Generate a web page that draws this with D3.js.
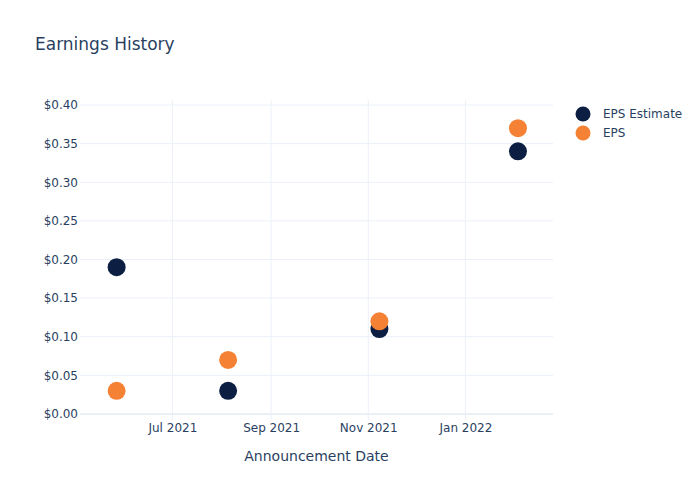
<!DOCTYPE html>
<html>
<head>
<meta charset="utf-8">
<script src="https://cdn.jsdelivr.net/npm/d3@7"></script>
<style>
  html, body { margin: 0; padding: 0; background: #fff; }
  text { font-family: "DejaVu Sans", sans-serif; }
</style>
</head>
<body>
<svg id="chart" width="700" height="500"></svg>
<script>
const dates = ["2021-05-27", "2021-08-05", "2021-11-08", "2022-02-03"];
const epsEstimate = [0.19, 0.03, 0.11, 0.34];
const eps = [0.03, 0.07, 0.12, 0.37];
const seriesNames = ["EPS Estimate", "EPS"];
const seriesColors = ["#0c1f42", "#f58134"];
const yTicks = [0, 0.05, 0.10, 0.15, 0.20, 0.25, 0.30, 0.35, 0.40];
const xTickDates = ["2021-07-01", "2021-09-01", "2021-11-01", "2022-01-01"];

const parse = d3.utcParse("%Y-%m-%d");
const svg = d3.select("#chart");
const margin = {l: 80, r: 147, t: 100, b: 80};
const W = 700, H = 500;

const x = d3.scaleUtc()
  .domain([parse("2021-05-04"), parse("2022-02-25")])
  .range([margin.l, W - margin.r]);
const y = d3.scaleLinear()
  .domain([-0.0078, 0.4065])
  .range([H - margin.b, margin.t]);

const textColor = "#2a3f5f";
const gridColor = "#ebf0f8";

// grid
const gx = svg.append("g");
gx.selectAll("line.vg").data(xTickDates).join("line")
  .attr("x1", d => x(parse(d))).attr("x2", d => x(parse(d)))
  .attr("y1", margin.t).attr("y2", H - margin.b)
  .attr("stroke", gridColor).attr("stroke-width", 1);
gx.selectAll("line.hg").data(yTicks.filter(d => d !== 0)).join("line")
  .attr("x1", margin.l).attr("x2", W - margin.r)
  .attr("y1", d => y(d)).attr("y2", d => y(d))
  .attr("stroke", gridColor).attr("stroke-width", 1);
// zero line
svg.append("line")
  .attr("x1", margin.l).attr("x2", W - margin.r)
  .attr("y1", y(0)).attr("y2", y(0))
  .attr("stroke", gridColor).attr("stroke-width", 2);

// y axis
const yAxis = d3.axisLeft(y).tickValues(yTicks).tickFormat(d => "$" + d3.format(".2f")(d)).tickSize(0).tickPadding(0);
const ya = svg.append("g").attr("transform", `translate(${margin.l - 2},0)`).call(yAxis);
ya.select(".domain").remove();
ya.selectAll("text").attr("fill", textColor).style("font-size", "12px");

// x axis
const xAxis = d3.axisBottom(x).tickValues(xTickDates.map(parse)).tickFormat(d3.utcFormat("%b %Y")).tickSize(0).tickPadding(0);
const xa = svg.append("g").attr("transform", `translate(0,${H - margin.b + 3})`).call(xAxis);
xa.select(".domain").remove();
xa.selectAll("text").attr("fill", textColor).style("font-size", "12px").attr("dy", "0.71em");

// axis title
svg.append("text")
  .attr("x", (margin.l + W - margin.r) / 2).attr("y", 461)
  .attr("text-anchor", "middle").attr("fill", textColor)
  .style("font-size", "14px").text("Announcement Date");

// title
svg.append("text")
  .attr("x", 35).attr("y", 50)
  .attr("fill", textColor).style("font-size", "17px").text("Earnings History");

// points
const series = [epsEstimate, eps];
series.forEach((vals, si) => {
  svg.append("g").selectAll("circle").data(vals).join("circle")
    .attr("cx", (d, i) => x(parse(dates[i])))
    .attr("cy", d => y(d))
    .attr("r", 9)
    .attr("fill", seriesColors[si]);
});

// legend
const lg = svg.append("g");
seriesNames.forEach((name, i) => {
  const cy = 114 + i * 19;
  lg.append("circle").attr("cx", 583).attr("cy", cy).attr("r", 7.5).attr("fill", seriesColors[i]);
  lg.append("text").attr("x", 603).attr("y", cy).attr("dy", "0.35em")
    .attr("fill", textColor).style("font-size", "12px").text(name);
});
</script>
</body>
</html>
